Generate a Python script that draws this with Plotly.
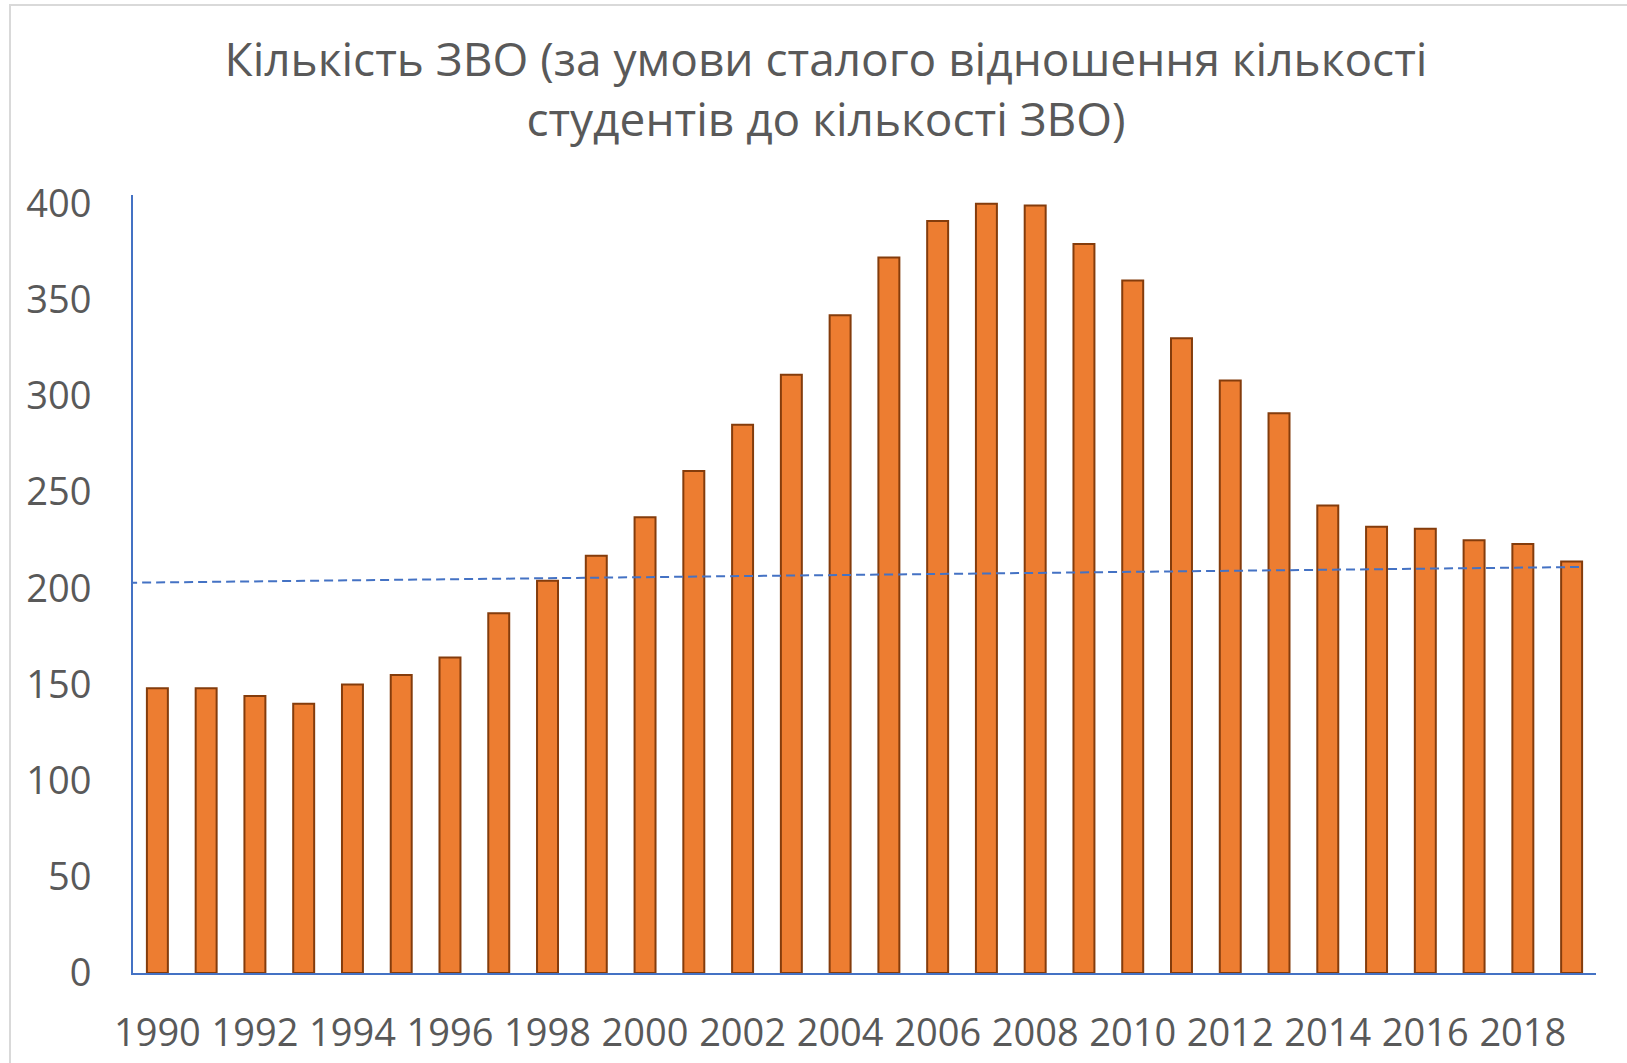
import plotly.graph_objects as go

# ---- data ----
years = list(range(1990, 2020))
values = [148, 148, 144, 140, 150, 155, 164, 187, 204, 217,
          237, 261, 285, 311, 342, 372, 391, 400, 399, 379,
          360, 330, 308, 291, 243, 232, 231, 225, 223, 214]
trend_years = [1989.4, 2019.2]
trend_values = [202.9, 211.1]
tick_years = list(range(1990, 2020, 2))
tick_labels = [str(y) for y in tick_years]
y_ticks = [0, 50, 100, 150, 200, 250, 300, 350, 400]
title_lines = ["Кількість ЗВО (за умови сталого відношення кількості",
               "студентів до кількості ЗВО)"]

W, H = 1627, 1063
L, R, T, B = 133, 31, 195, 90

fig = go.Figure()
fig.add_trace(go.Bar(
    x=years, y=values,
    marker=dict(color="#ED7D31", line=dict(color="#843C0C", width=2)),
    showlegend=False,
))
fig.add_trace(go.Scatter(
    x=trend_years, y=trend_values, mode="lines",
    line=dict(color="#4472C4", width=2, dash="9px,5px"),
    showlegend=False,
))

font_main = "Open Sans, Noto Sans, sans-serif"
fig.update_layout(
    width=W, height=H,
    margin=dict(l=L, r=R, t=T, b=B, autoexpand=False),
    paper_bgcolor="white", plot_bgcolor="white",
    bargap=0.57,
    title=dict(
        text="<br>".join(title_lines),
        x=826 / W, xanchor="center",
        y=1 - 76 / H, yanchor="middle", yref="container",
        font=dict(family=font_main, size=46, color="#595959"),
    ),
    xaxis=dict(
        range=[1989.5, 2019.5],
        tickmode="array", tickvals=tick_years, ticktext=tick_labels,
        showgrid=False, zeroline=False, automargin=False,
        showline=True, linecolor="#4472C4", linewidth=2,
        ticks="", ticklabelstandoff=25,
        tickfont=dict(family=font_main, size=38, color="#595959"),
    ),
    yaxis=dict(
        range=[0, 404.5],
        tickmode="array", tickvals=y_ticks,
        showgrid=False, zeroline=False, automargin=False,
        showline=True, linecolor="#4472C4", linewidth=2,
        ticks="", ticklabelstandoff=32,
        tickfont=dict(family=font_main, size=38, color="#595959"),
    ),
    shapes=[dict(
        type="rect", xref="paper", yref="paper",
        x0=(10 - L) / (W - L - R), x1=1.2,
        y0=-0.3, y1=(H - B - 5) / (H - B - T),
        line=dict(color="#D9D9D9", width=2), fillcolor="rgba(0,0,0,0)",
        layer="below",
    )],
)

fig.write_html(
    "out.html",
    config={"displayModeBar": False},
    post_script="document.body.style.margin='0';document.body.style.overflow='hidden';",
)
